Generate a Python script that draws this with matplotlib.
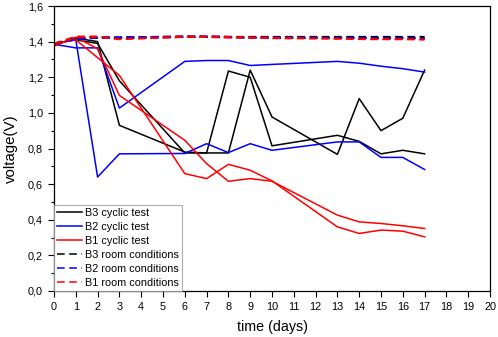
import matplotlib
matplotlib.use("Agg")
import matplotlib.pyplot as plt
from matplotlib.ticker import MultipleLocator, FuncFormatter

plt.rcParams['font.family'] = ['Liberation Sans', 'DejaVu Sans']

days = [0, 1, 2, 3, 6, 7, 8, 9, 10, 13, 14, 15, 16, 17]

b3_cyclic_a = [1.38, 1.42, 1.40, 0.93, 0.78, 0.775, 1.235, 1.20, 0.815, 0.874, 0.84, 0.77, 0.79, 0.77]
b3_cyclic_b = [1.39, 1.41, 1.39, 1.18, 0.775, 0.775, 0.775, 1.24, 0.977, 0.767, 1.08, 0.90, 0.97, 1.24]
b2_cyclic_a = [1.39, 1.41, 0.64, 0.77, 0.772, 0.827, 0.777, 0.827, 0.79, 0.837, 0.837, 0.75, 0.75, 0.682]
b2_cyclic_b = [1.385, 1.365, 1.365, 1.027, 1.289, 1.294, 1.294, 1.266, 1.272, 1.289, 1.279, 1.262, 1.248, 1.229]
b1_cyclic_a = [1.375, 1.425, 1.36, 1.098, 0.846, 0.715, 0.616, 0.631, 0.616, 0.426, 0.388, 0.379, 0.366, 0.351]
b1_cyclic_b = [1.39, 1.41, 1.31, 1.21, 0.659, 0.631, 0.711, 0.678, 0.618, 0.360, 0.323, 0.342, 0.336, 0.304]

b3_room_a = [1.38, 1.42, 1.425, 1.425, 1.43, 1.43, 1.428, 1.428, 1.428, 1.428, 1.428, 1.428, 1.428, 1.428]
b3_room_b = [1.39, 1.415, 1.42, 1.42, 1.425, 1.425, 1.425, 1.423, 1.422, 1.422, 1.422, 1.422, 1.422, 1.422]
b2_room_a = [1.39, 1.42, 1.425, 1.425, 1.43, 1.43, 1.428, 1.425, 1.425, 1.422, 1.422, 1.42, 1.42, 1.42]
b2_room_b = [1.385, 1.415, 1.42, 1.42, 1.425, 1.425, 1.423, 1.42, 1.42, 1.418, 1.418, 1.416, 1.416, 1.416]
b1_room_a = [1.39, 1.43, 1.43, 1.415, 1.43, 1.43, 1.428, 1.425, 1.422, 1.418, 1.416, 1.415, 1.415, 1.413]
b1_room_b = [1.38, 1.425, 1.425, 1.412, 1.425, 1.425, 1.422, 1.42, 1.418, 1.415, 1.413, 1.412, 1.412, 1.41]

fig = plt.figure(figsize=(4.98, 3.37), dpi=100)
ax = fig.add_axes([54/498, 1-291/337, (490-54)/498, (291-6)/337])

lw = 1.1
ax.plot(days, b3_cyclic_a, color='black', lw=lw, label='B3 cyclic test')
ax.plot(days, b3_cyclic_b, color='black', lw=lw)
ax.plot(days, b2_cyclic_a, color='#0000ff', lw=lw, label='B2 cyclic test')
ax.plot(days, b2_cyclic_b, color='#0000ff', lw=lw)
ax.plot(days, b1_cyclic_a, color='#ff0000', lw=lw, label='B1 cyclic test')
ax.plot(days, b1_cyclic_b, color='#ff0000', lw=lw)

dash = (0, (5, 3))
ax.plot(days, b3_room_a, color='black', lw=lw, ls=dash, label='B3 room conditions')
ax.plot(days, b3_room_b, color='black', lw=lw, ls=dash)
ax.plot(days, b2_room_a, color='#0000ff', lw=lw, ls=dash, label='B2 room conditions')
ax.plot(days, b2_room_b, color='#0000ff', lw=lw, ls=dash)
ax.plot(days, b1_room_a, color='#ff0000', lw=lw, ls=dash, label='B1 room conditions')
ax.plot(days, b1_room_b, color='#ff0000', lw=lw, ls=dash)

ax.set_xlim(0, 20)
ax.set_ylim(0, 1.6)
ax.xaxis.set_major_locator(MultipleLocator(1))
ax.yaxis.set_major_locator(MultipleLocator(0.2))
ax.yaxis.set_minor_locator(MultipleLocator(0.1))
ax.yaxis.set_major_formatter(FuncFormatter(lambda v, p: f"{v:.1f}".replace('.', ',')))
ax.tick_params(axis='both', which='major', direction='out', length=4, width=0.8, labelsize=7.8)
ax.tick_params(axis='x', which='major', pad=4)
ax.tick_params(axis='y', which='major', pad=4)
ax.tick_params(axis='y', which='minor', direction='out', length=2.5, width=0.8)
for s in ax.spines.values():
    s.set_linewidth(0.9)

ax.set_xlabel('time (days)', fontsize=10.3)
ax.set_ylabel('voltage(V)', fontsize=10.8)
ax.xaxis.set_label_coords(0.5, -0.10)
ax.yaxis.set_label_coords(-0.082, 0.5)

leg = ax.legend(loc='lower left', fontsize=7.8, frameon=True, fancybox=False,
                borderaxespad=0, handlelength=2.3, handletextpad=0.35,
                labelspacing=0.38, borderpad=0.25)
leg.get_frame().set_edgecolor('#999999')
leg.get_frame().set_linewidth(0.8)

fig.savefig('out.png', dpi=100)
